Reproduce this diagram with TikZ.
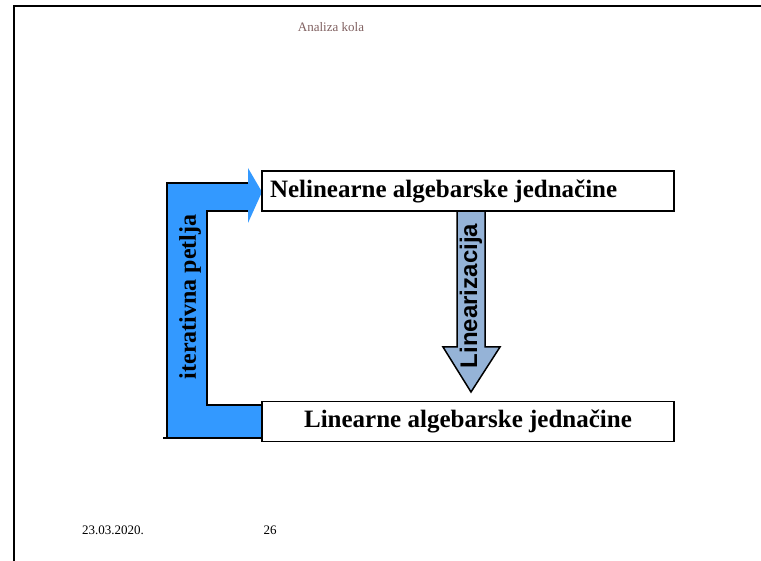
\documentclass[tikz,border=0pt]{standalone}
\usepackage{fontspec}
\setmainfont{Liberation Serif}
\newfontfamily\arialfont{Liberation Sans}
\usepackage{tikz}
\usetikzlibrary{positioning, calc}
\definecolor{loopblue}{RGB}{51,153,255}
\definecolor{linblue}{RGB}{149,179,215}
\definecolor{headgray}{RGB}{128,96,96}
\tikzset{
    eqbox/.style={draw, line width=1.5pt, fill=white, minimum width=412pt, minimum height=40pt, inner sep=8pt, font=\bfseries\fontsize{25}{27}\selectfont},
    small/.style={font=\fontsize{13}{15}\selectfont, inner sep=0pt}
}

\begin{document}
\begin{tikzpicture}[x=1pt, y=-1pt]
            \useasboundingbox (0,0) rectangle (761,561);
            \draw[line width=2pt] (14,561) -- (14,6) -- (761,6);
            \node[small, text=headgray] (title) at (331,27) {Analiza kola};
            \node[small, anchor=west] (date) at (82,530) {23.03.2020.};
            \node[small] (page) at (270,530) {26};
            \fill[loopblue] (167,183) -- (248,183) -- (248,168) -- (262,192)
            -- (248,223) -- (248,211) -- (207,211) -- (207,405)
            -- (262,405) -- (262,438) -- (167,438) -- cycle;
            \draw[line width=1.5pt] (248,183) -- (167,183) -- (167,438);
            \draw[line width=1.5pt] (163,438) -- (262,438);
            \draw[line width=1.5pt] (248,211) -- (207,211) -- (207,405) -- (262,405);
            \draw[line width=1.5pt, fill=linblue] (457,211) -- (485,211) -- (485,347)
            -- (500,347) -- (471,392) -- (443,347) -- (457,347) -- cycle;
            \node[eqbox, text width=396pt, align=flush left] (nelin) at (468,191) {Nelinearne algebarske jedna\v{c}ine};
            \node[eqbox, below=189pt of nelin] (lin) {Linearne algebarske jedna\v{c}ine};
            \node[rotate=90, font=\arialfont\bfseries\fontsize{24}{26}\selectfont] (linz) at (471,296) {Linearizacija};
            \node[rotate=90, font=\bfseries\fontsize{24}{26}\selectfont] (iter) at (190,297) {iterativna petlja};
        \end{tikzpicture}
\end{document}
